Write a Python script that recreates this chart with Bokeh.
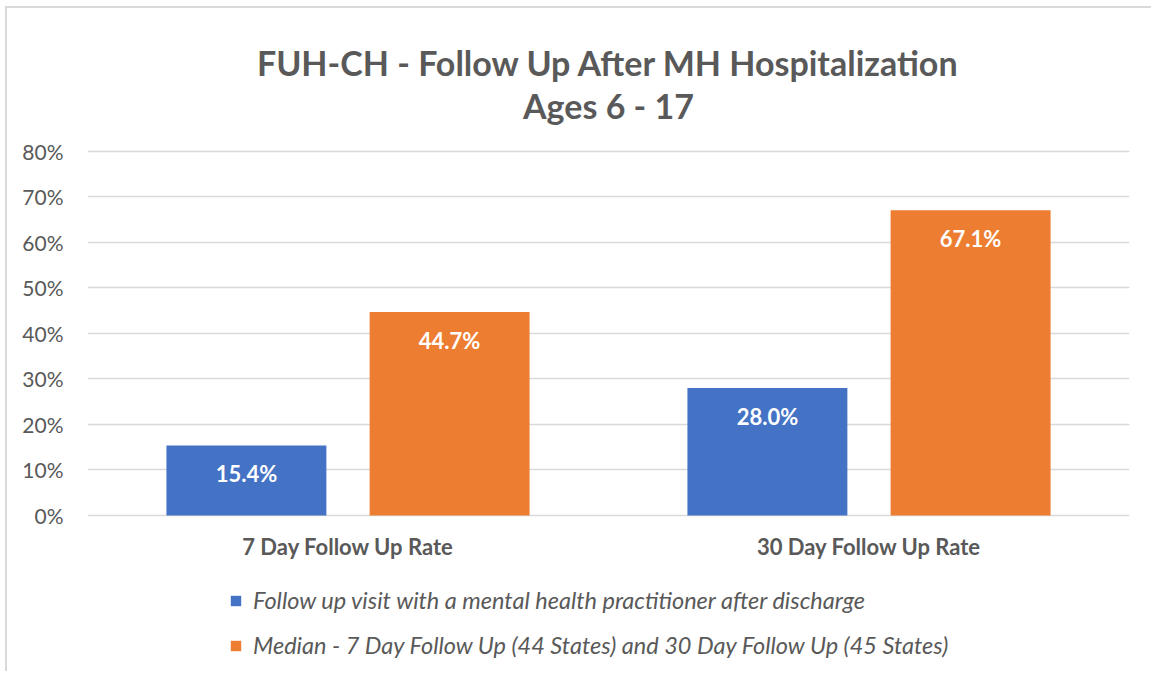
from bokeh.plotting import figure
from bokeh.models import ColumnDataSource, FactorRange, Range1d, Legend, LegendItem, PrintfTickFormatter, FixedTicker
from bokeh.transform import dodge
from bokeh.core.properties import value
from bokeh.embed import file_html
from bokeh.resources import INLINE

# ---- data ----
categories = ["7 Day Follow Up Rate", "30 Day Follow Up Rate"]
state_rate = [15.4, 28.0]
median_rate = [44.7, 67.1]
series_names = [
    "Follow up visit with a mental health practitioner after discharge",
    "Median - 7 Day Follow Up (44 States) and 30 Day Follow Up (45 States)",
]
y_ticks = [0, 10, 20, 30, 40, 50, 60, 70, 80]
title_lines = ["FUH-CH - Follow Up After MH Hospitalization", "Ages 6 - 17"]

BLUE = "#4472C4"
ORANGE = "#ED7D31"
GREY = "#595959"
GRID = "#D9D9D9"
FONT = "Lato"

src = ColumnDataSource(dict(
    cat=categories,
    state=state_rate,
    median=median_rate,
    state_lbl=[f"{v:.1f}%" for v in state_rate],
    median_lbl=[f"{v:.1f}%" for v in median_rate],
))

# the plotting frame spans the full canvas height so that the titles, the
# category labels and the legend can all sit inside it
p = figure(
    x_range=FactorRange(*categories),
    y_range=Range1d(-34.73, 111.43),
    width=1146, height=665,
    output_backend="svg", toolbar_location=None,
    min_border_left=80, min_border_right=24,
    min_border_top=0, min_border_bottom=0,
    margin=(8, 0, 0, 7),
    styles={"box-shadow": "-2px -2px 0 0 #D9D9D9"},
)
p.title.visible = False

off = 0.195
bw = 0.307
r1 = p.vbar(x=dodge("cat", -off, range=p.x_range), top="state", width=bw, source=src,
            fill_color=BLUE, line_color=None)
r2 = p.vbar(x=dodge("cat", off, range=p.x_range), top="median", width=bw, source=src,
            fill_color=ORANGE, line_color=None)

for xo, col in [(-off, "state"), (off, "median")]:
    p.text(x=dodge("cat", xo, range=p.x_range), y=col, text=col + "_lbl", source=src,
           text_align="center", text_baseline="middle", y_offset=28,
           text_color="white", text_font=value(FONT), text_font_style="bold",
           text_font_size="22px")

# category labels under the baseline
p.text(x="cat", y=0, text="cat", source=src, text_align="center", text_baseline="middle",
       y_offset=31, text_color=GREY, text_font=value(FONT), text_font_style="bold",
       text_font_size="22px")

# two-line title, centred over the plot and anchored above the top gridline
title_src = ColumnDataSource(dict(x=[1.0, 1.0], y=[y_ticks[-1]] * 2, text=title_lines,
                                  dy=[-89, -46]))
p.text(x="x", y="y", text="text", y_offset="dy", source=title_src,
       text_align="center", text_baseline="middle", text_color=GREY,
       text_font=value(FONT), text_font_style="bold", text_font_size="34px")

# axes
p.yaxis.ticker = FixedTicker(ticks=y_ticks)
p.yaxis.formatter = PrintfTickFormatter(format="%d%%")
p.yaxis.axis_line_color = None
p.yaxis.major_tick_line_color = None
p.yaxis.minor_tick_line_color = None
p.yaxis.major_label_text_font = FONT
p.yaxis.major_label_text_font_size = "21px"
p.yaxis.major_label_text_color = GREY
p.yaxis.major_label_standoff = 18
p.xaxis.visible = False

p.xgrid.grid_line_color = None
p.ygrid.grid_line_color = GRID
p.ygrid.grid_line_width = 1.5
p.ygrid.ticker = FixedTicker(ticks=y_ticks)
p.outline_line_color = None

legend = Legend(
    items=[LegendItem(label=series_names[0], renderers=[r1]),
           LegendItem(label=series_names[1], renderers=[r2])],
    orientation="vertical", location=(142, 14),
    label_text_font=FONT, label_text_font_size="23.5px", label_text_font_style="italic",
    label_text_color=GREY, glyph_width=13, glyph_height=13, label_standoff=11,
    spacing=17, border_line_color=None, background_fill_alpha=0,
    padding=0, margin=0,
)
p.add_layout(legend, "center")

open("out.html", "w").write(file_html(p, INLINE))
